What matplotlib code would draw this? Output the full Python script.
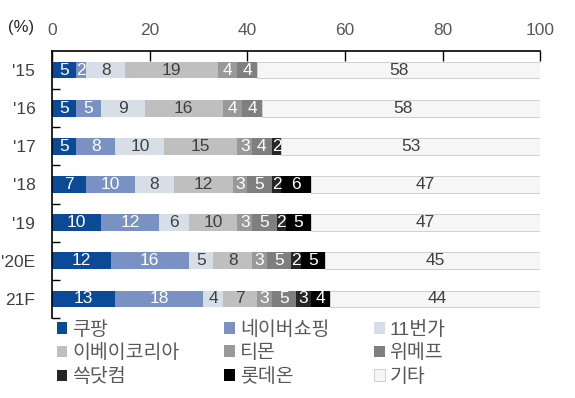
import matplotlib.pyplot as plt
import numpy as np
from matplotlib.ticker import FixedLocator

plt.rcParams['font.family'] = ['Liberation Sans', 'Noto Sans CJK KR', 'DejaVu Sans']

years = ["'15", "'16", "'17", "'18", "'19", "'20E", "21F"]
names = ['쿠팡', '네이버쇼핑', '11번가', '이베이코리아', '티몬', '위메프', '쓱닷컴', '롯데온', '기타']

coupang = [5, 5, 5, 7, 10, 12, 13]
naver = [2, 5, 8, 10, 12, 16, 18]
st11 = [8, 9, 10, 8, 6, 5, 4]
ebay = [19, 16, 15, 12, 10, 8, 7]
tmon = [4, 4, 3, 3, 3, 3, 3]
wemakeprice = [4, 4, 4, 5, 5, 5, 5]
ssg = [0, 0, 2, 2, 2, 2, 3]
lotteon = [0, 0, 0, 6, 5, 5, 4]
others = [58, 58, 53, 47, 47, 45, 44]

series = [coupang, naver, st11, ebay, tmon, wemakeprice, ssg, lotteon, others]
colors = ['#0b4a96', '#7a92c3', '#d6dee7', '#bfbfbf', '#999999', '#7f7f7f', '#262626', '#000000', '#f6f6f6']
text_colors = ['white', 'white', '#404040', '#404040', 'white', 'white', 'white', 'white', '#404040']

fig = plt.figure(figsize=(5.75, 3.98), dpi=100)
ax = fig.add_axes([0.0904, 0.201, 0.849, 0.671])

y = np.arange(len(years))
left = np.zeros(len(years))
handles = []
for vals, name, c, tc in zip(series, names, colors, text_colors):
    vals = np.array(vals, dtype=float)
    edge = '#c8c8c8' if name == '기타' else c
    bars = ax.barh(y, vals, left=left, height=0.44, color=c, edgecolor=edge,
                   linewidth=0.6 if name == '기타' else 0, label=name)
    handles.append(bars)
    for yi, v, l in zip(y, vals, left):
        if v > 0:
            ax.text(l + v / 2, yi, f'{int(v)}', ha='center', va='center',
                    color=tc, fontsize=12.5)
    left += vals

ax.set_xlim(0, 100)
ax.set_ylim(len(years) - 0.5, -0.5)
ax.xaxis.tick_top()
ax.set_xticks([0, 20, 40, 60, 80, 100])
ax.tick_params(axis='x', direction='in', length=7, width=1, colors='black',
               labelcolor='#595959', labelsize=12.5, pad=9)
ax.set_yticks(y)
ax.set_yticklabels(years)
ax.yaxis.set_minor_locator(FixedLocator(np.arange(len(years)) + 0.5))
ax.tick_params(axis='y', which='major', length=0, labelcolor='#404040', labelsize=12.5, pad=12)
ax.tick_params(axis='y', which='minor', direction='in', length=6, width=1)
for s in ['right', 'bottom']:
    ax.spines[s].set_visible(False)
for s in ['top', 'left']:
    ax.spines[s].set_linewidth(1.2)

fig.text(0.014, 0.93, '(%)', fontsize=12, color='#262626', va='center')

order = [0, 3, 6, 1, 4, 7, 2, 5, 8]
leg = fig.legend([handles[i] for i in order], [names[i] for i in order], ncol=3,
                 loc='upper left', bbox_to_anchor=(0.085, 0.214), frameon=False,
                 fontsize=14, handlelength=0.55, handleheight=0.55, handletextpad=0.25,
                 columnspacing=2.3, labelspacing=0.3, borderaxespad=0)
for t in leg.get_texts():
    t.set_color('#595959')

fig.savefig('out.png', dpi=100)
